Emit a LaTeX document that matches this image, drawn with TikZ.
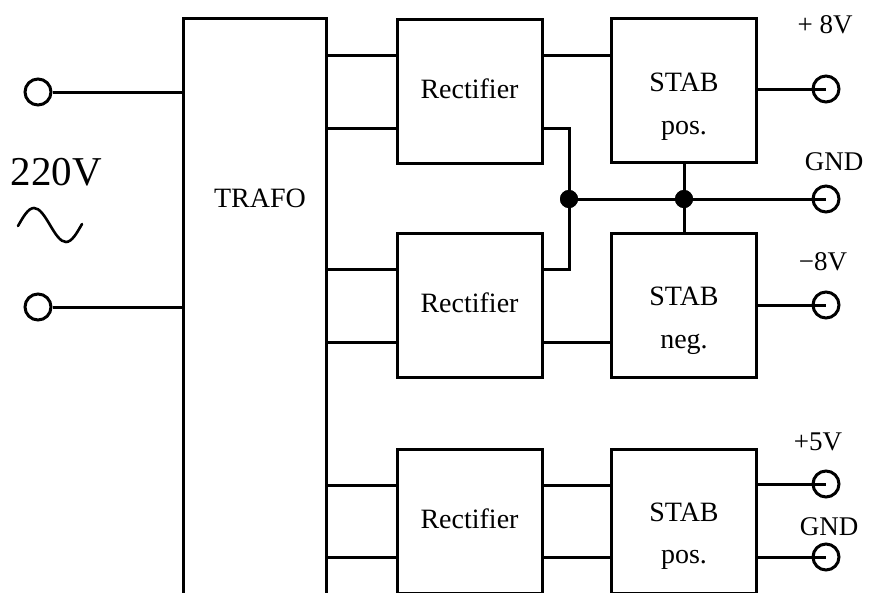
\documentclass[tikz,border=0pt]{standalone}
\usepackage{fontspec}
\setmainfont{Liberation Serif}
\begin{document}
\begin{tikzpicture}[x=1pt,y=-1pt,line width=3pt,
  blk/.style={draw,rectangle,inner sep=0pt,minimum width=145pt,minimum height=144pt},
  txt/.style={inner sep=0pt,anchor=base,font=\fontsize{28}{34}\selectfont},
  lbl/.style={inner sep=0pt,anchor=base,font=\fontsize{27}{32}\selectfont},
  term/.style={draw,circle,inner sep=0pt,minimum size=26pt,fill=white},
  jdot/.style={fill,circle,inner sep=0pt,minimum size=18pt}]
\useasboundingbox (0,0) rectangle (869,592);
\clip (0,0) rectangle (869,592);
% blocks
\node[blk,minimum width=143pt,minimum height=578pt] (trafo) at (254.5,307) {};
\node[blk] (r1) at (469.5,91) {};
\node[blk] (r2) at (469.5,305.5) {};
\node[blk] (r3) at (469.5,521) {};
\node[blk] (s1) at (684,90) {};
\node[blk] (s2) at (684,305.5) {};
\node[blk] (s3) at (684,521) {};
% texts
\node[txt] (ttrafo) at (260,207) {TRAFO};
\node[txt] (tr1) at (469.5,98) {Rectifier};
\node[txt] (tr2) at (469.5,312) {Rectifier};
\node[txt] (tr3) at (469.5,528) {Rectifier};
\node[txt] (ts1a) at (684,91) {STAB};
\node[txt] (ts1b) at (684,134) {pos.};
\node[txt] (ts2a) at (684,305) {STAB};
\node[txt] (ts2b) at (684,348) {neg.};
\node[txt] (ts3a) at (684,521) {STAB};
\node[txt] (ts3b) at (684,563) {pos.};
% level coordinates
\coordinate (y55) at (0,55);
\coordinate (y128) at (0,128);
\coordinate (y269) at (0,269.5);
\coordinate (y342) at (0,342.5);
\coordinate (y485) at (0,485);
\coordinate (y557) at (0,557);
% input terminals
\node[term] (in1) at (38,92) {};
\node[term] (in2) at (38,307) {};
\draw (in1.east) -- (trafo.west |- in1);
\draw (in2.east) -- (trafo.west |- in2);
\node[inner sep=0pt,anchor=base west,font=\fontsize{41}{48}\selectfont] (v220) at (9,185) {220V};
\draw[line width=2.6pt,line cap=round] (18,226) sin (34,208) cos (50,225) sin (66,242) cos (82,224);
% trafo -> rectifiers
\draw (trafo.east |- y55) -- (r1.west |- y55);
\draw (trafo.east |- y128) -- (r1.west |- y128);
\draw (trafo.east |- y269) -- (r2.west |- y269);
\draw (trafo.east |- y342) -- (r2.west |- y342);
\draw (trafo.east |- y485) -- (r3.west |- y485);
\draw (trafo.east |- y557) -- (r3.west |- y557);
% rectifiers -> stabs
\draw (r1.east |- y55) -- (s1.west |- y55);
\draw (r2.east |- y342) -- (s2.west |- y342);
\draw (r3.east |- y485) -- (s3.west |- y485);
\draw (r3.east |- y557) -- (s3.west |- y557);
% ground junctions
\node[jdot] (j1) at (569,199) {};
\node[jdot] (j2) at (s1.south |- j1) {};
\draw (r1.east |- y128) -| (j1.center) |- (r2.east |- y269);
\draw (s1.south) -- (s2.north);
% output terminals
\node[term] (o1) at (826,89) {};
\node[term] (o2) at (826,199) {};
\node[term] (o3) at (826,305) {};
\node[term] (o4) at (826,484) {};
\node[term] (o5) at (826,557) {};
\draw (s1.east |- o1) -- (o1.center);
\draw (j1.center) -- (o2.center);
\draw (s2.east |- o3) -- (o3.center);
\draw (s3.east |- o4) -- (o4.center);
\draw (s3.east |- o5) -- (o5.center);
\node[jdot] at (j1) {};
\node[jdot] at (j2) {};
% output labels
\node[lbl] (l1) at (825,33) {+ 8V};
\node[lbl] (l2) at (834,170) {GND};
\node[lbl] (l3) at (823,270) {−8V};
\node[lbl] (l4) at (818,450) {+5V};
\node[lbl] (l5) at (829,535) {GND};
\end{tikzpicture}
\end{document}
